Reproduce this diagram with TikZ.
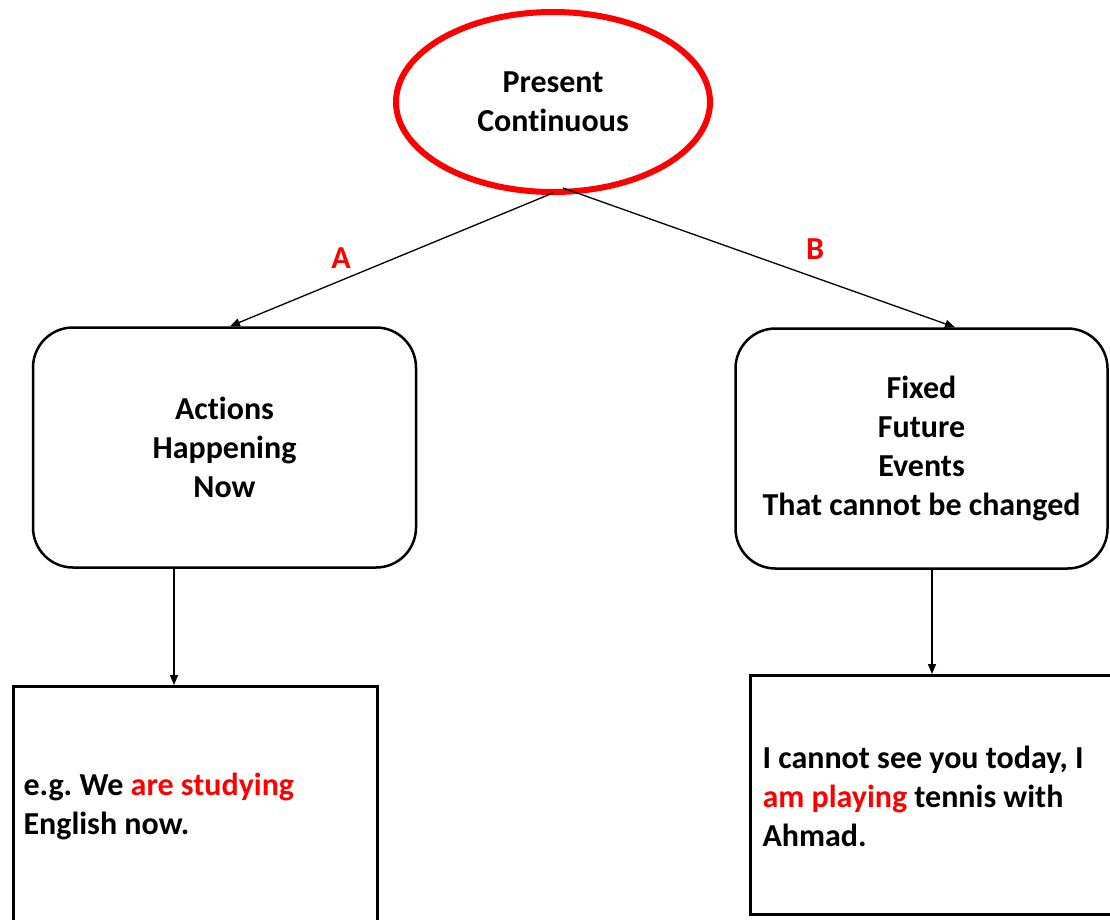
\documentclass[tikz,border=0pt]{standalone}
\usepackage{fontspec}
\setmainfont[Ligatures=NoCommon]{Carlito}
\usetikzlibrary{shapes.geometric,arrows.meta}
\definecolor{hl}{RGB}{255,0,0}
\frenchspacing
\tikzset{
  lbl/.style={font=\fontsize{32}{39}\selectfont\bfseries},
  roundbox/.style={draw, line width=2.5pt, rounded corners=40pt, minimum width=383pt, minimum height=240pt},
  plainbox/.style={draw, line width=2.5pt},
  arr/.style={line width=1.3pt, -{Triangle[length=10pt,width=8pt]}},
}
\begin{document}
\begin{tikzpicture}[x=1pt,y=-1pt]
\useasboundingbox (0,0) rectangle (1110,919);
\clip (0,0) rectangle (1110,919);
\fill[white] (0,0) rectangle (1110,919);

% top ellipse
\node[ellipse, draw=hl, line width=6pt, minimum width=314pt, minimum height=180pt,
      lbl, align=center, inner sep=0pt] (pc) at (553,102) {Present\\Continuous};

% middle rounded boxes
\node[roundbox, lbl, align=center] (lbox) at (224.5,447.5) {Actions\\Happening\\Now};
\node[roundbox, minimum width=372pt, lbl, align=center] (rbox) at (921.5,448.5)
      {Fixed\\Future\\Events\\That cannot be changed};

% bottom boxes (running off the page edge)
\node[plainbox, minimum width=364pt, minimum height=300pt, anchor=north west] (lex) at (12,685) {};
\node[plainbox, minimum width=400pt, minimum height=239pt, anchor=north west] (rex) at (749,674) {};

\node[lbl, align=left, anchor=west] (ltext) at (20,806)
  {e.g. We \textcolor{hl}{are studying}\\English now.};
\node[lbl, align=left, anchor=west] (rtext) at (759,796)
  {I cannot see you today, I\\\textcolor{hl}{am playing} tennis with\\Ahmad.};

% connectors
\coordinate (ea) at (553,193);
\coordinate (eb) at (563,188);
\coordinate (ta) at (230,0);
\coordinate (tb) at (955,0);
\coordinate (la) at (174,0);
\coordinate (ra) at (932,0);
\draw[arr] (ea) -- (lbox.north -| ta);
\draw[arr] (eb) -- (rbox.north -| tb);
\draw[arr] (lbox.south -| la) -- (lex.north -| la);
\draw[arr] (rbox.south -| ra) -- (rex.north -| ra);

% branch labels
\node[lbl, text=hl] (la-lbl) at (341,258) {A};
\node[lbl, text=hl] (lb-lbl) at (815,249) {B};
\end{tikzpicture}
\end{document}
